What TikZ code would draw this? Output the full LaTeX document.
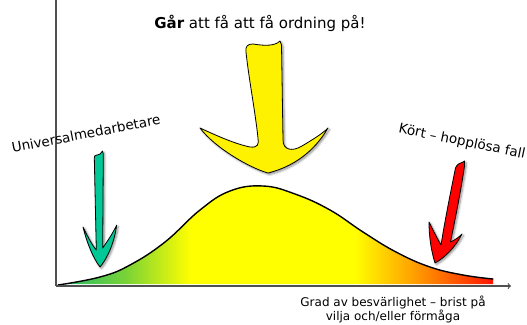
\documentclass[tikz,border=0pt]{standalone}
\usepackage{fontspec}
\setmainfont{DejaVu Sans}
\usetikzlibrary{shadows.blur}
\definecolor{axisgray}{RGB}{80,80,80}
\definecolor{arrowteal}{RGB}{0,200,150}
\definecolor{gA}{RGB}{30,185,110}
\definecolor{gB}{RGB}{120,210,55}
\definecolor{yA}{RGB}{255,255,0}
\definecolor{oA}{RGB}{255,165,0}
\definecolor{rA}{RGB}{255,20,0}
\pgfdeclarehorizontalshading{bellshade}{100bp}{color(0bp)=(gA); color(25bp)=(gA); color(32.7bp)=(gB); color(40.2bp)=(yA); color(59.1bp)=(yA); color(65.5bp)=(oA); color(75bp)=(rA); color(100bp)=(rA)}
\tikzset{
  axisline/.style={draw=axisgray, line width=1.2pt},
  bigarrow/.style={draw=black, line width=0.8pt, line join=round,
    blur shadow={shadow xshift=1.5pt, shadow yshift=-1.5pt, shadow blur steps=6, shadow opacity=45}},
  lbl/.style={inner sep=0pt, font=\fontsize{13.5}{15}\selectfont},
  titlelbl/.style={inner sep=0pt, font=\fontsize{15}{17}\selectfont},
  axislbl/.style={inner sep=0pt, align=center, font=\fontsize{12}{13.5}\selectfont}
}
\begin{document}
\begin{tikzpicture}[x=1pt,y=-1pt]
\useasboundingbox (0,0) rectangle (527,324);
% gradient-filled bell curve
\shade[shading=bellshade] (58,284) -- plot[smooth, tension=0.7] coordinates {(58,285) (100,277) (130,265) (165,242) (200,210) (230,191) (263,186) (295,194) (330,210) (363,232) (396,252) (430,267) (463,275) (493,279)} -- (493,284) -- cycle;
\draw[line width=1.4pt, line cap=round] plot[smooth, tension=0.7] coordinates {(58,285) (100,277) (130,265) (165,242) (200,210) (230,191) (263,186) (295,194) (330,210) (363,232) (396,252) (430,267) (463,275) (493,279)};
% axes
\coordinate (origin) at (56,286);
\coordinate (ytop) at (56,0);
\coordinate (xend) at (511,286);
\draw[axisline] (ytop) -- (origin);
\draw[axisline, -to] (origin) -- (xend);
% yellow arrow
\draw[bigarrow, fill=yellow]
 (246,52) .. controls (245,46) and (248,44) .. (253,44)
 .. controls (265,46) and (275,46) .. (280,41)
 -- (281.5,45) -- (283,140)
 .. controls (283,150) and (292,152) .. (302,146)
 .. controls (312,140) and (322,134) .. (328,128)
 .. controls (318,145) and (300,165) .. (268,173)
 .. controls (250,168) and (215,148) .. (200,128)
 .. controls (215,135) and (235,144) .. (250,147)
 .. controls (258,148) and (259,144) .. (258,138)
 .. controls (255,110) and (249,80) .. (246,52) -- cycle;
% teal arrow
\draw[bigarrow, fill=arrowteal]
 (94.3,158) .. controls (94,156) and (95,155) .. (97,155)
 .. controls (99,155) and (101,154) .. (102.5,151)
 -- (103.3,154) -- (102.7,248)
 .. controls (106,243) and (112,235) .. (116.7,225)
 .. controls (114,245) and (106,260) .. (100,267)
 .. controls (93,258) and (87,243) .. (83,227)
 .. controls (88,237) and (92,245) .. (96.3,250)
 -- cycle;
% red arrow
\draw[bigarrow, fill=red]
 (455.5,168) .. controls (457,164) and (460,163) .. (463,162)
 -- (464.5,161) -- (464.5,166)
 .. controls (461,190) and (455,220) .. (450.5,242)
 .. controls (455,240) and (459,237) .. (462,234)
 .. controls (455,248) and (444,258) .. (435,263)
 .. controls (431,250) and (429,236) .. (429,222)
 .. controls (433,230) and (437,238) .. (441,245)
 .. controls (445,220) and (451,190) .. (455.5,168) -- cycle;
% labels
\node[titlelbl, anchor=base] (title) at (260,28) {\textbf{Går} att få att få ordning på!};
\node[lbl, rotate=10.9] (univ) at (86,133.5) {Universalmedarbetare};
\node[lbl, rotate=-11.7] (kort) at (462,142) {Kört – hopplösa fall};
\node[axislbl, anchor=north] (xlabel) at (393,296) {Grad av besvärlighet – brist på\\vilja och/eller förmåga};
\end{tikzpicture}
\end{document}
